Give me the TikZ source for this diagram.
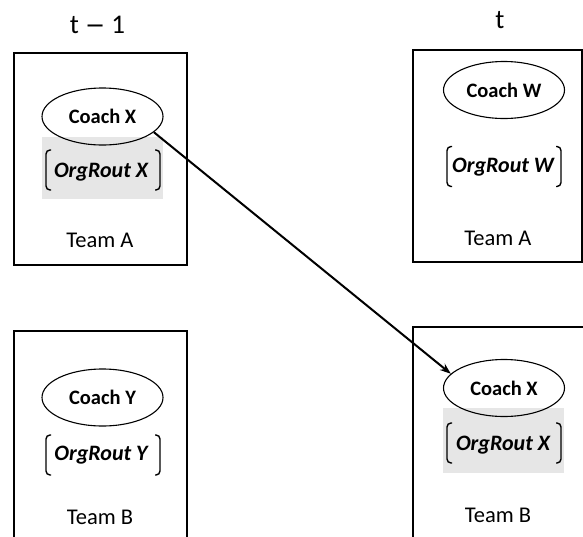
\documentclass[tikz,border=0pt]{standalone}
\usepackage{fontspec}
\setmainfont{Carlito}
\newfontfamily\symfont{DejaVu Sans}
\usetikzlibrary{arrows.meta,shapes.geometric}
\definecolor{shade}{HTML}{E6E6E6}
\tikzset{
  teambox/.style={draw, line width=1.5pt, inner sep=0pt},
  coach/.style={draw, ellipse, line width=1.1pt, minimum width=121pt, minimum height=57pt, inner sep=0pt, font=\fontsize{20.5}{22}\selectfont\bfseries},
  rout/.style={inner sep=0pt, font=\fontsize{22}{24}\selectfont\bfseries\itshape},
  team/.style={font=\fontsize{22.5}{24}\selectfont},
  timelbl/.style={font=\fontsize{27}{29}\selectfont},
  shadebox/.style={fill=shade, inner sep=0pt, minimum width=121pt},
  brk/.style={line width=1.4pt, rounded corners=4pt},
  move/.style={line width=2pt, -{Stealth[length=11pt,width=8pt]}}
}
\begin{document}
\begin{tikzpicture}[x=1pt,y=-1pt]
\useasboundingbox (0,0) rectangle (583,536);
\clip (0,0) rectangle (583,536);
% shaded backgrounds
\node[shadebox, minimum height=62pt] (sh1) at (102.5,168) {};
\node[shadebox, minimum height=65pt] (sh2) at (503.5,440.5) {};
% team boxes
\draw[teambox] (14,53) rectangle (187,265);
\node[inner sep=0pt, minimum width=173pt, minimum height=212pt] (boxTL) at (100.5,159) {};
\draw[teambox] (413,50) rectangle (582,262);
\node[inner sep=0pt] (boxTR) at (497.5,156) {};
\draw[teambox] (14,331) rectangle (187,545);
\node[inner sep=0pt] (boxBL) at (100.5,438) {};
\draw[teambox] (413,327) rectangle (595,545);
\node[inner sep=0pt] (boxBR) at (504,436) {};
% time labels
\node[timelbl] (tm1) at (97.5,25) {t {\symfont\fontsize{24}{26}\selectfont −} 1};
\node[timelbl] (tt) at (500,20) {t};
% coaches
\node[coach] (cX1) at (102.5,116.5) {Coach X};
\node[coach] (cW) at (504,90) {Coach W};
\node[coach] (cY) at (102.5,397.5) {Coach Y};
\node[coach] (cX2) at (504,388) {Coach X};
% routines
\node[rout] (rX1) at (101,172) {OrgRout X};
\node[rout] (rW) at (503,167) {OrgRout W};
\node[rout] (rY) at (101,455) {OrgRout Y};
\node[rout] (rX2) at (503,445) {OrgRout X};
% brackets
\foreach \n/\cx/\cy in {rX1/103/170, rW/504/166.5, rY/103/455, rX2/504/443}{
  \draw[brk] (\cx-52,\cy-20) -- (\cx-57,\cy-20) -- (\cx-57,\cy+20) -- (\cx-52,\cy+20);
  \draw[brk] (\cx+52,\cy-20) -- (\cx+57,\cy-20) -- (\cx+57,\cy+20) -- (\cx+52,\cy+20);
}
% team labels
\node[team] (tA1) at (100,240) {Team A};
\node[team] (tA2) at (498,238) {Team A};
\node[team] (tB1) at (100,517) {Team B};
\node[team] (tB2) at (498,515) {Team B};
% transfer arrow
\draw[move] (cX1.-17) -- (cX2.165);
\end{tikzpicture}
\end{document}
